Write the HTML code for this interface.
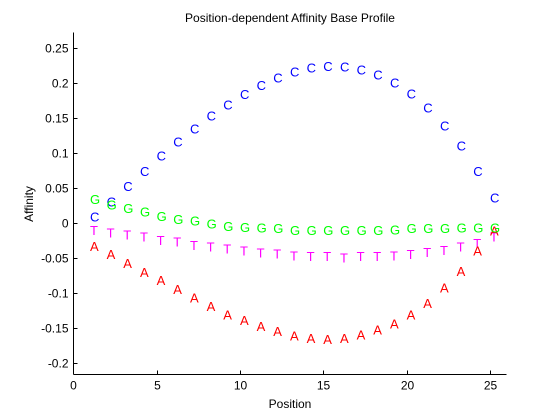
<!DOCTYPE html>
<html><head><meta charset="utf-8"><style>
body{margin:0;background:#fff;}
svg{display:block;font-family:"Liberation Sans",Arial,sans-serif;}
</style></head><body>
<svg id="chart" width="560" height="420">
<rect width="560" height="420" fill="#fff"/>
<text x="290" y="22" font-size="12" text-anchor="middle">Position-dependent Affinity Base Profile</text>
<text x="290" y="408" font-size="12" text-anchor="middle">Position</text>
<text transform="translate(33,204) rotate(-90)" font-size="12" text-anchor="middle">Affinity</text>
<g id="axes"></g>
<g id="marks"></g>
</svg>
<script>
const positions=[1,2,3,4,5,6,7,8,9,10,11,12,13,14,15,16,17,18,19,20,21,22,23,24,25];
const seriesC=[0.0095,0.031,0.053,0.075,0.0966,0.1166,0.1357,0.1537,0.170,0.1847,0.1976,0.208,0.2167,0.2223,0.2247,0.2237,0.2194,0.2128,0.2009,0.1857,0.1651,0.1394,0.1109,0.0747,0.0366];
const seriesG=[0.0347,0.027,0.022,0.0166,0.0104,0.006,0.004,0,-0.004,-0.005,-0.006,-0.007,-0.0096,-0.0096,-0.0096,-0.0096,-0.0096,-0.0096,-0.009,-0.007,-0.007,-0.0065,-0.006,-0.006,-0.006];
const seriesT=[-0.0096,-0.013,-0.016,-0.019,-0.024,-0.026,-0.031,-0.033,-0.036,-0.039,-0.042,-0.043,-0.046,-0.047,-0.047,-0.049,-0.047,-0.047,-0.046,-0.044,-0.041,-0.038,-0.033,-0.028,-0.019];
const seriesA=[-0.0324,-0.044,-0.057,-0.0696,-0.081,-0.094,-0.106,-0.118,-0.13,-0.138,-0.147,-0.154,-0.16,-0.164,-0.165,-0.164,-0.159,-0.152,-0.143,-0.13,-0.114,-0.092,-0.068,-0.039,-0.01];
const xTicks=[0,5,10,15,20,25];
const yTicks=[-0.2,-0.15,-0.1,-0.05,0,0.05,0.1,0.15,0.2,0.25];
const yTickLabels=["-0.2","-0.15","-0.1","-0.05","0","0.05","0.1","0.15","0.2","0.25"];
const X0=73.3,XS=16.667,Y0=223.3,YS=700;
const xs=v=>X0+v*XS, ys=v=>Y0-v*YS;
const NS="http://www.w3.org/2000/svg";
const axes=document.getElementById('axes'),marks=document.getElementById('marks');
function mk(tag,attrs,parent){const e=document.createElementNS(NS,tag);for(const k in attrs)e.setAttribute(k,attrs[k]);parent.appendChild(e);return e;}
const L=73.5,R=506.5,T=32.5,B=374.5;
const xa=mk('line',{x1:L,y1:B,x2:R,y2:B,stroke:'#000'},axes);


const ya=mk('line',{x1:L,y1:T,x2:L,y2:B,stroke:'#000'},axes);


xTicks.forEach(t=>{const x=Math.round(xs(t))+0.5;
mk('line',{x1:x,y1:B,x2:x,y2:B-4,stroke:'#000'},axes);
const tx=mk('text',{x:x,y:B+15,'font-size':12,'text-anchor':'middle'},axes);tx.textContent=t;

});
yTicks.forEach((t,i)=>{const y=Math.round(ys(t))+0.5;
mk('line',{x1:L,y1:y,x2:L+4,y2:y,stroke:'#000'},axes);
const tx=mk('text',{x:L-5,y:y+4,'font-size':12,'text-anchor':'end'},axes);tx.textContent=yTickLabels[i];

});
const series=[['C',seriesC,'#0000ff'],['T',seriesT,'#ff00ff'],['A',seriesA,'#ff0000'],['G',seriesG,'#00ff00']];
series.forEach(([ch,vals,col])=>{vals.forEach((v,i)=>{
const t=mk('text',{x:xs(positions[i]),y:ys(v)+5,'font-size':13,fill:col},marks);t.textContent=ch;

});});
</script>
</body></html>
